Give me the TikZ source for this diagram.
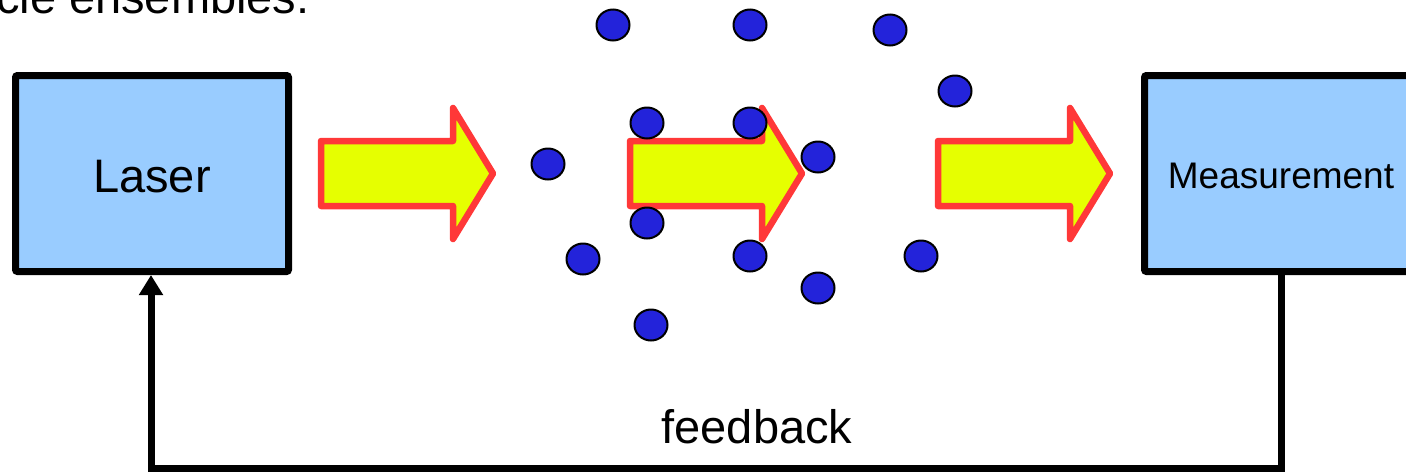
\documentclass[tikz,border=0pt]{standalone}
\usepackage{fontspec}
\setmainfont{Liberation Sans}
\usetikzlibrary{arrows.meta,shapes.geometric}

\definecolor{boxblue}{HTML}{99CCFF}
\definecolor{beamfill}{HTML}{E6FF00}
\definecolor{beamedge}{HTML}{FF3838}
\definecolor{atomblue}{HTML}{2323DA}

\tikzset{
  unitbox/.style={draw=black, line width=3.5pt, fill=boxblue, rounded corners=1pt,
    minimum width=136.5pt, minimum height=98pt, inner sep=0pt, text depth=0pt},
  beam/.style={draw=beamedge, fill=beamfill, line width=3.25pt, line join=round},
  atom/.style={ellipse, draw=black, fill=atomblue, line width=1pt,
    minimum width=16.5pt, minimum height=15.5pt, inner sep=0pt},
  fbline/.style={draw=black, line width=3.5pt},
  bigtext/.style={font=\fontsize{23.5pt}{28pt}\selectfont},
}

\begin{document}
\begin{tikzpicture}[x=0.5pt,y=-0.5pt]
  \useasboundingbox (0,0) rectangle (1406,472);
  \clip (0,0) rectangle (1406,472);

  % heading line, running off the top edge
  \node[bigtext, anchor=base east, inner sep=0pt] (head) at (310,13) {cle ensembles:};

  % laser and detector blocks
  \node[unitbox, bigtext, text height=18.8pt] (laser) at (152,173.5) {Laser};
  \node[unitbox, font=\fontsize{18.5pt}{22pt}\selectfont, text height=15.2pt]
    (meas) at (1281,173.5) {Measurement};

  % light beams passing through the sample
  \foreach \ax in {321,630,938}
    \draw[beam, shift={(\ax,0)}] (0,141) -- (132,141) -- (132,108) -- (172,173.5)
      -- (132,239) -- (132,206) -- (0,206) -- cycle;

  % particle cloud
  \foreach \px/\py [count=\i] in {613/25, 750/25, 890/30, 955/91,
      647/123, 750/123, 818/157, 548/164, 647/223, 583/259,
      750/256, 921/256, 818/288, 651/325}
    \node[atom] (p\i) at (\px,\py) {};

  % feedback loop from the measurement back to the laser
  \coordinate (corner) at (151,468);
  \draw[fbline, -{Triangle[width=11.5pt,length=10pt]}]
    (meas.south) |- (corner) -- (laser.south -| corner);
  \node[bigtext, anchor=base, inner sep=0pt] (fb) at (757,443) {feedback};
\end{tikzpicture}
\end{document}
